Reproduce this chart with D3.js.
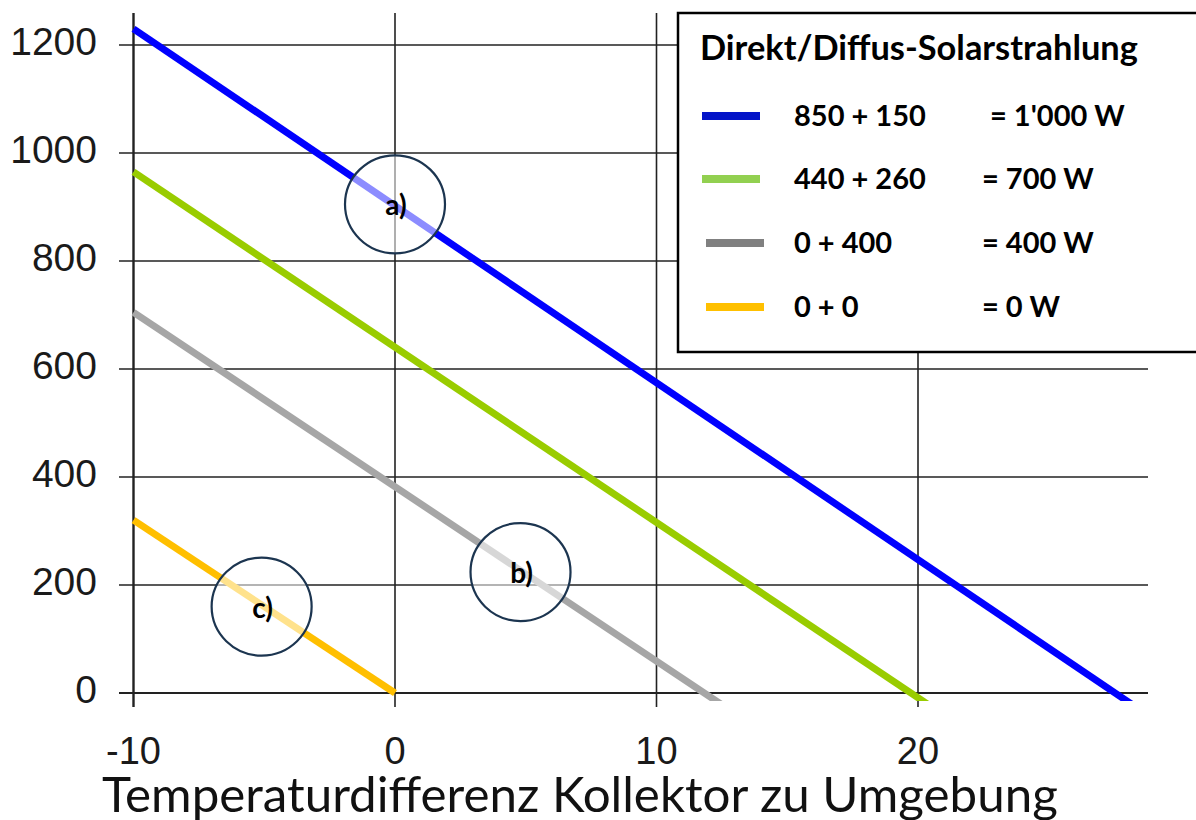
<!DOCTYPE html>
<html><head><meta charset="utf-8">
<script src="https://cdn.jsdelivr.net/npm/d3@7"></script>
<style>body{margin:0;background:#fff;overflow:hidden}</style></head>
<body>
<svg id="c" width="1196" height="820"></svg>
<script>
// ---- data ----
const xTicks = [-10, 0, 10, 20];
const yTicks = [0, 200, 400, 600, 800, 1000, 1200];
const seriesNames = ["850 + 150", "440 + 260", "0 + 400", "0 + 0"];
const seriesTotals = ["= 1'000 W", "= 700 W", "= 400 W", "= 0 W"];
const blueLine = [[-10, 1230], [28.3, -25]];
const greenLine = [[-10, 965], [20.5, -25]];
const grayLine = [[-10, 705], [12.6, -25]];
const orangeLine = [[-10, 320], [0, 0]];
const markers = [
  {label: "a)", x: 0, y: 905},
  {label: "b)", x: 4.8, y: 224},
  {label: "c)", x: -5.1, y: 160}
];
const legendTitle = "Direkt/Diffus-Solarstrahlung";
const xTitle = "Temperaturdifferenz Kollektor zu Umgebung";

// ---- styles ----
const lineColors = ["#0000ff", "#99cc00", "#a6a6a6", "#ffbf00"];
const legendColors = ["#0414c8", "#92d050", "#808080", "#ffc000"];
const series = [blueLine, greenLine, grayLine, orangeLine];

const svg = d3.select("#c");
const x = d3.scaleLinear().domain([-10, 20]).range([133.5, 918]);
const y = d3.scaleLinear().domain([0, 1200]).range([693, 45]);

const gridColor = "#222";
const tickFont = "'Liberation Sans', Arial, sans-serif";
const calFont = "Lato, 'Open Sans', sans-serif";

// horizontal gridlines
svg.append("g").selectAll("line").data(yTicks).join("line")
  .attr("x1", 119).attr("x2", 1148)
  .attr("y1", d => y(d)).attr("y2", d => y(d))
  .attr("stroke", gridColor).attr("stroke-width", d => d === 0 ? 2.2 : 1.6);

// vertical gridlines
svg.append("g").selectAll("line").data(xTicks).join("line")
  .attr("x1", d => x(d)).attr("x2", d => x(d))
  .attr("y1", 13).attr("y2", 707)
  .attr("stroke", gridColor).attr("stroke-width", d => d === -10 ? 2.4 : 1.6);

// y tick labels
svg.append("g").selectAll("text").data(yTicks).join("text")
  .attr("x", 97).attr("y", d => y(d) - 4)
  .attr("text-anchor", "end").attr("dominant-baseline", "central")
  .attr("font-family", tickFont).attr("font-size", 39).attr("fill", "#1a1a1a")
  .text(d => d);

// x tick labels
svg.append("g").selectAll("text").data(xTicks).join("text")
  .attr("x", d => x(d)).attr("y", 751)
  .attr("text-anchor", "middle").attr("dominant-baseline", "central")
  .attr("font-family", tickFont).attr("font-size", 38).attr("fill", "#1a1a1a")
  .text(d => d);

// clip for lines
svg.append("clipPath").attr("id", "clip").append("rect")
  .attr("x", 120).attr("y", 0).attr("width", 1076).attr("height", 701);

const lineGen = d3.line().x(d => x(d[0])).y(d => y(d[1]));
svg.append("g").attr("clip-path", "url(#clip)").selectAll("path").data(series).join("path")
  .attr("d", lineGen).attr("fill", "none")
  .attr("stroke", (d, i) => lineColors[i]).attr("stroke-width", 7);

// marker circles
const mk = svg.append("g");
mk.selectAll("ellipse").data(markers).join("ellipse")
  .attr("cx", d => x(d.x)).attr("cy", d => y(d.y))
  .attr("rx", 50).attr("ry", 49)
  .attr("fill", "#fff").attr("fill-opacity", 0.55)
  .attr("stroke", "#1c3550").attr("stroke-width", 2.2);
mk.selectAll("text").data(markers).join("text")
  .attr("x", d => x(d.x) + 1).attr("y", d => y(d.y))
  .attr("text-anchor", "middle").attr("dominant-baseline", "central")
  .attr("font-family", calFont).attr("font-weight", "bold").attr("font-size", 28)
  .attr("fill", "#000").text(d => d.label);

// x axis title
const xt = svg.append("text").attr("x", 102).attr("y", 812)
  .attr("font-family", calFont).attr("font-size", 42).attr("fill", "#111")
  .text(xTitle);
{
  const w = xt.node().getComputedTextLength();
  xt.attr("font-size", 42 * 956 / w);
}

// legend
const lg = svg.append("g");
lg.append("rect").attr("x", 678).attr("y", 13).attr("width", 530).attr("height", 339)
  .attr("fill", "#fff").attr("stroke", "#000").attr("stroke-width", 2.5);
const lt = lg.append("text").attr("x", 700).attr("y", 60)
  .attr("font-family", calFont).attr("font-weight", "bold").attr("font-size", 30)
  .attr("fill", "#000").text(legendTitle);
{
  const w = lt.node().getComputedTextLength();
  lt.attr("font-size", 30 * 438 / w);
}
const rowY = [116, 179, 243, 307];
const swX = [702, 702, 706, 706];
const totX = [990, 982, 982, 982];
const rows = lg.selectAll("g.row").data(seriesNames).join("g").attr("class", "row");
rows.append("line")
  .attr("x1", (d, i) => swX[i]).attr("x2", (d, i) => swX[i] + 58)
  .attr("y1", (d, i) => rowY[i]).attr("y2", (d, i) => rowY[i])
  .attr("stroke", (d, i) => legendColors[i]).attr("stroke-width", 8);
rows.append("text").attr("x", 794).attr("y", (d, i) => rowY[i] + 10)
  .attr("font-family", calFont).attr("font-weight", "bold").attr("font-size", 29)
  .attr("fill", "#000").text(d => d);
rows.append("text").attr("x", (d, i) => totX[i]).attr("y", (d, i) => rowY[i] + 10)
  .attr("font-family", calFont).attr("font-weight", "bold").attr("font-size", 29)
  .attr("fill", "#000").text((d, i) => seriesTotals[i]);
</script>
</body></html>
